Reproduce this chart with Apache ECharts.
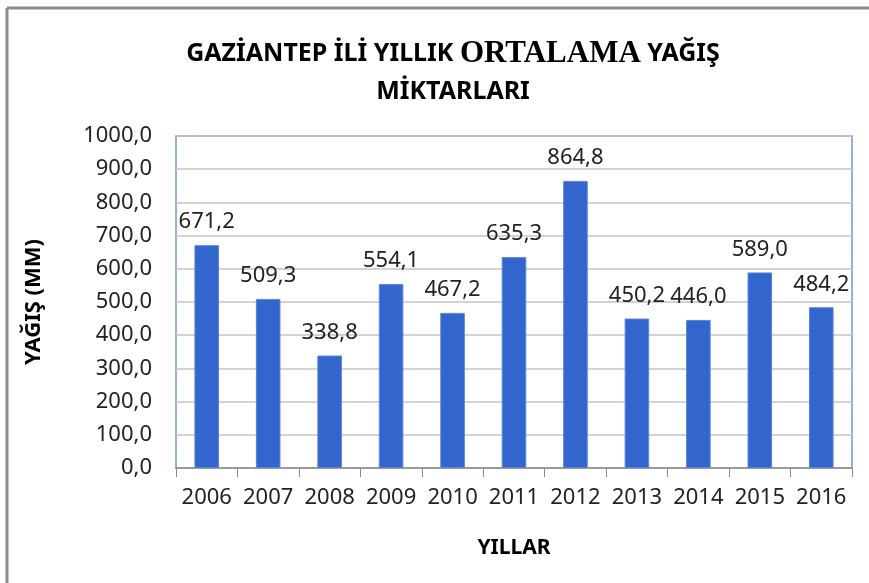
<!DOCTYPE html>
<html>
<head>
<meta charset="utf-8">
<script src="https://cdn.jsdelivr.net/npm/echarts@6/dist/echarts.min.js"></script>
<style>
  html, body { margin: 0; padding: 0; background: #fff; }
  #chart { width: 869px; height: 583px; }
</style>
</head>
<body>
<div id="chart"></div>
<script>
const years = ["2006", "2007", "2008", "2009", "2010", "2011", "2012", "2013", "2014", "2015", "2016"];
const rainfall = [671.2, 509.3, 338.8, 554.1, 467.2, 635.3, 864.8, 450.2, 446.0, 589.0, 484.2];

const font = "Noto Sans";
const fmt = (v) => v.toFixed(1).replace(".", ",");

const chart = echarts.init(document.getElementById("chart"));
chart.setOption({
  animation: false,
  // outer frame of the pasted chart (top and left edges only)
  graphic: [
    { type: "line", shape: { x1: 7, y1: 8, x2: 869, y2: 8 }, style: { stroke: "#8c8c8c", lineWidth: 3 } },
    { type: "line", shape: { x1: 7, y1: 8, x2: 7, y2: 583 }, style: { stroke: "#8c8c8c", lineWidth: 3 } }
  ],
  title: {
    text: "{a|GAZİANTEP İLİ YILLIK }{b|ORTALAMA}{a| YAĞIŞ}\n{a|MİKTARLARI}",
    left: 448,
    textAlign: "center",
    top: 30,
    textStyle: {
      rich: {
        a: { fontFamily: font, fontWeight: "bold", fontSize: 25, color: "#000", lineHeight: 38 },
        b: { fontFamily: "Liberation Serif", fontWeight: "bold", fontSize: 31, color: "#000", lineHeight: 38 }
      }
    }
  },
  grid: {
    left: 176,
    right: 17,
    top: 136,
    bottom: 115,
    show: true,
    borderColor: "#6f9ad6",
    borderWidth: 1.5
  },
  xAxis: {
    type: "category",
    data: years,
    name: "YILLAR",
    nameLocation: "middle",
    nameGap: 70,
    nameTextStyle: { fontFamily: font, fontWeight: "bold", fontSize: 21, color: "#000" },
    axisLine: { show: true, lineStyle: { color: "#8c8c8c", width: 1.5 } },
    axisTick: { show: true, length: 9, lineStyle: { color: "#8c8c8c" } },
    axisLabel: { interval: 0, hideOverlap: false, fontFamily: font, fontSize: 22, color: "#222", margin: 19 }
  },
  yAxis: {
    type: "value",
    min: 0,
    max: 1000,
    interval: 100,
    name: "YAĞIŞ (MM)",
    nameLocation: "middle",
    nameGap: 131,
    nameRotate: 90,
    nameTextStyle: { fontFamily: font, fontWeight: "bold", fontSize: 22, color: "#000" },
    axisLine: { show: false },
    axisTick: { show: false },
    axisLabel: { fontFamily: font, fontSize: 22, color: "#222", margin: 24, formatter: fmt },
    splitLine: { lineStyle: { color: "#c4c4c4", width: 1.5 } }
  },
  series: [
    {
      type: "bar",
      data: rainfall,
      barWidth: "40%",
      itemStyle: { color: "#3366cc", borderColor: "#5a86d8", borderWidth: 1 },
      label: {
        show: true,
        position: "top",
        distance: 12,
        fontFamily: font,
        fontSize: 22,
        color: "#222",
        formatter: (p) => fmt(p.value)
      }
    }
  ]
});
</script>
</body>
</html>
